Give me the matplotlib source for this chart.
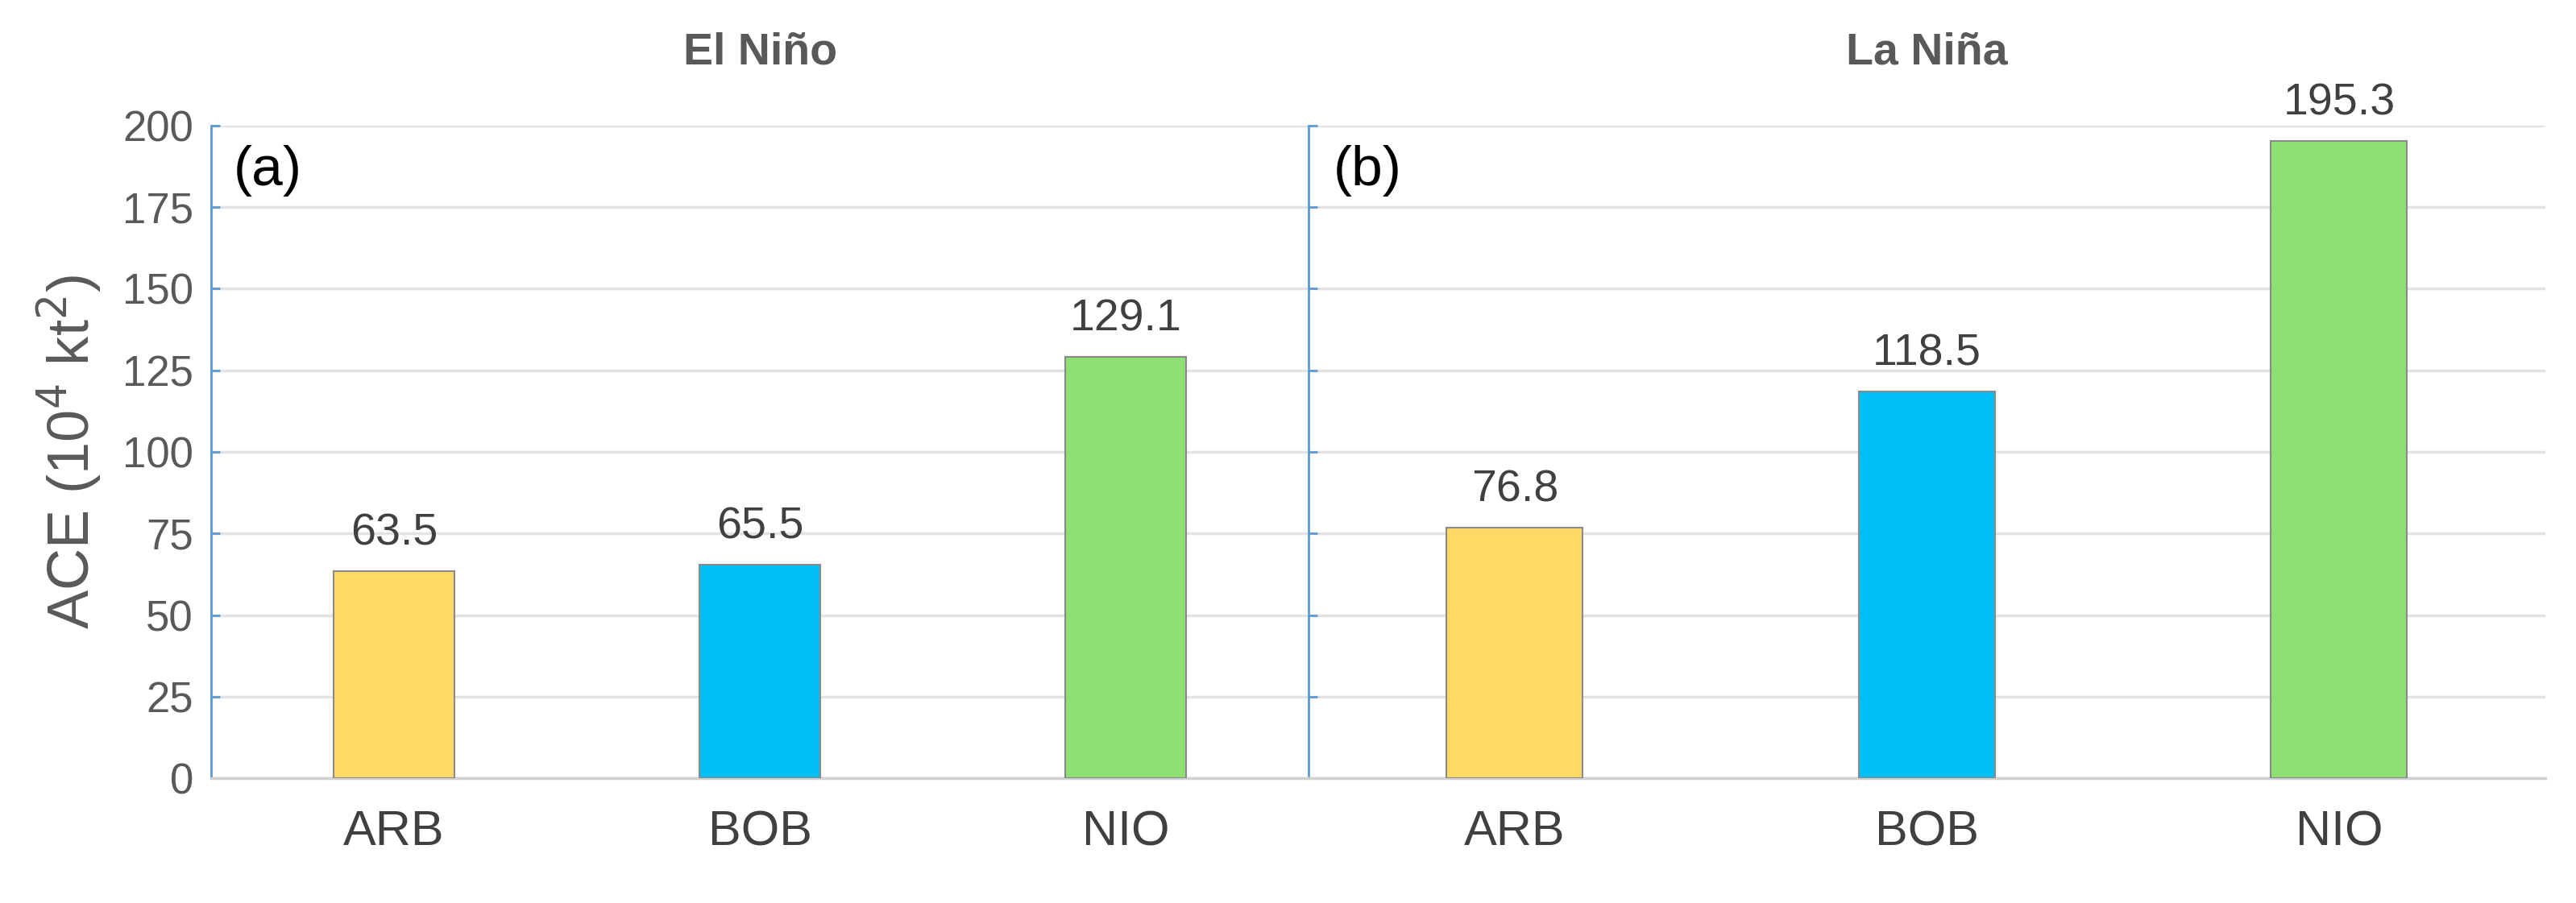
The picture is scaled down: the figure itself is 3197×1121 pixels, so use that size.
import matplotlib

matplotlib.use("Agg")
import matplotlib.pyplot as plt  # noqa: E402

plt.rcParams["font.family"] = ["Liberation Sans", "DejaVu Sans"]

regions = ["ARB", "BOB", "NIO"]
el_nino = [63.5, 65.5, 129.1]
la_nina = [76.8, 118.5, 195.3]
panel_titles = ["El Niño", "La Niña"]
panel_tags = ["(a)", "(b)"]
bar_colors = ["#FFD966", "#00BFF5", "#8EE073"]
yticks = [0, 25, 50, 75, 100, 125, 150, 175, 200]

fig = plt.figure(figsize=(31.97, 11.21), dpi=100)
left, mid, right = 0.082, 0.508, 0.988
bottom, top = 0.138, 0.861
axes = [fig.add_axes([left, bottom, mid - left, top - bottom]),
        fig.add_axes([mid, bottom, right - mid, top - bottom])]

for i, (ax, vals) in enumerate(zip(axes, [el_nino, la_nina])):
    x = range(len(regions))
    ax.bar(x, vals, width=0.33, color=bar_colors, edgecolor="#8a8a8a", lw=1.5, zorder=3)
    for xi, v in zip(x, vals):
        ax.text(xi, v + 5, f"{v}", ha="center", va="bottom", fontsize=40, color="#404040")
    ax.set_xlim(-0.5, 2.5)
    ax.set_ylim(0, 200)
    ax.set_xticks(list(x))
    ax.set_xticklabels(regions, fontsize=44, color="#404040")
    ax.set_yticks(yticks)
    ax.grid(axis="y", color="#e3e3e3", lw=2.5, zorder=0)
    for s in ["top", "right"]:
        ax.spines[s].set_visible(False)
    ax.spines["left"].set_color("#5B9BD5")
    ax.spines["left"].set_linewidth(2)
    ax.spines["bottom"].set_color("#d0d0d0")
    ax.spines["bottom"].set_linewidth(2.5)
    ax.tick_params(axis="y", direction="in", length=8, width=2, color="#5B9BD5",
                   labelsize=38, labelcolor="#595959", pad=16)
    ax.tick_params(axis="x", length=0, pad=28)
    ax.set_title(panel_titles[i], fontsize=40, fontweight="bold", color="#595959", pad=55)
    ax.text(0.02, 0.97, panel_tags[i], transform=ax.transAxes, fontsize=50, va="top", ha="left")
    if i == 1:
        ax.tick_params(axis="y", labelleft=False)

axes[0].set_ylabel("ACE (10$^4$ kt$^2$)", fontsize=52, color="#595959", labelpad=16)

fig.savefig("out.png", dpi=100)
